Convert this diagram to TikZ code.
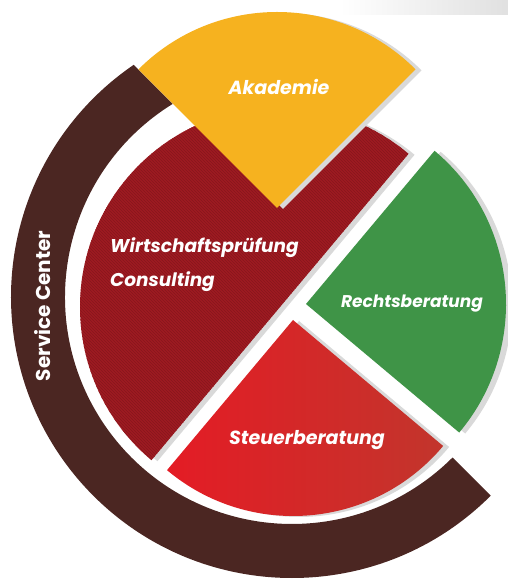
\documentclass[tikz,border=0pt]{standalone}
\usepackage{fontspec}
\setmainfont{Poppins}
\usetikzlibrary{shadows,patterns}
\definecolor{scbrown}{HTML}{4B2622}
\definecolor{akagold}{HTML}{F6B21F}
\definecolor{wpred}{HTML}{9E1B22}
\definecolor{wphatch}{HTML}{88161C}
\definecolor{rechtgreen}{HTML}{3F9447}
\definecolor{steuerlight}{HTML}{E41C25}
\definecolor{steuerdark}{HTML}{C2352C}
\definecolor{shadowgray}{HTML}{D9D9D9}
\begin{document}
\begin{tikzpicture}[x=1pt,y=1pt,
        piece/.style={drop shadow={shadow xshift=6pt,shadow yshift=-1pt,opacity=1,fill=shadowgray}},
        lbl/.style={text=white,inner sep=0pt,font=\fontsize{19}{22}\selectfont\bfseries\itshape},
        ringlbl/.style={text=white,inner sep=0pt,font=\fontsize{20}{24}\selectfont\bfseries}]
    \useasboundingbox (0,0) rectangle (508,581);
    % faint strip at the top
    \shade[left color=white,right color=black!12] (340,566) rectangle (508,581);
    % centres of the pieces
    \coordinate (ring) at (292,284);
    \coordinate (wp) at (280,274);
    \coordinate (aka) at (277,373);
    \coordinate (recht) at (306,277);
    \coordinate (steuer) at (293,261);
    % Service Center ring
    \fill[scbrown] ([shift={(-45:281)}]ring) arc[start angle=-45,end angle=-235.7,radius=281pt]
        -- ([shift={(-238.3:227)}]ring) arc[start angle=-238.3,end angle=-45,radius=227pt] -- cycle;
    % Wirtschaftspruefung / Consulting
    \fill[piece,wpred,postaction={pattern=north west lines,pattern color=wphatch}]
        ([shift={(50:200)}]wp) arc[start angle=50,end angle=230,radius=200pt] -- cycle;
    % Akademie
    \fill[piece,akagold] (aka) -- ++(45:196) arc[start angle=45,end angle=135,radius=196pt] -- cycle;
    % Rechtsberatung
    \fill[piece,rechtgreen] (recht) -- ++(-40:200) arc[start angle=-40,end angle=50,radius=200pt] -- cycle;
    % Steuerberatung
    \path[piece,left color=steuerlight,right color=steuerdark]
        (steuer) -- ++(230:196) arc[start angle=230,end angle=320,radius=196pt] -- cycle;
    % labels
    \node[lbl] (akalbl) at (279,494) {Akademie};
    \node[lbl,anchor=base west,font=\fontsize{18.5}{22}\selectfont\bfseries\itshape] (wplbl) at (110,328) {Wirtschaftsprüfung};
    \node[lbl,anchor=base west,font=\fontsize{18.5}{22}\selectfont\bfseries\itshape] (conslbl) at (110,294) {Consulting};
    \node[lbl,anchor=base,font=\fontsize{17}{20}\selectfont\bfseries\itshape] (rechtlbl) at (412,273) {Rechtsberatung};
    \node[lbl,anchor=base] (steuerlbl) at (307,136) {Steuerberatung};
    \node[ringlbl,rotate=90] (sclbl) at (43,275) {Service Center};
\end{tikzpicture}
\end{document}
